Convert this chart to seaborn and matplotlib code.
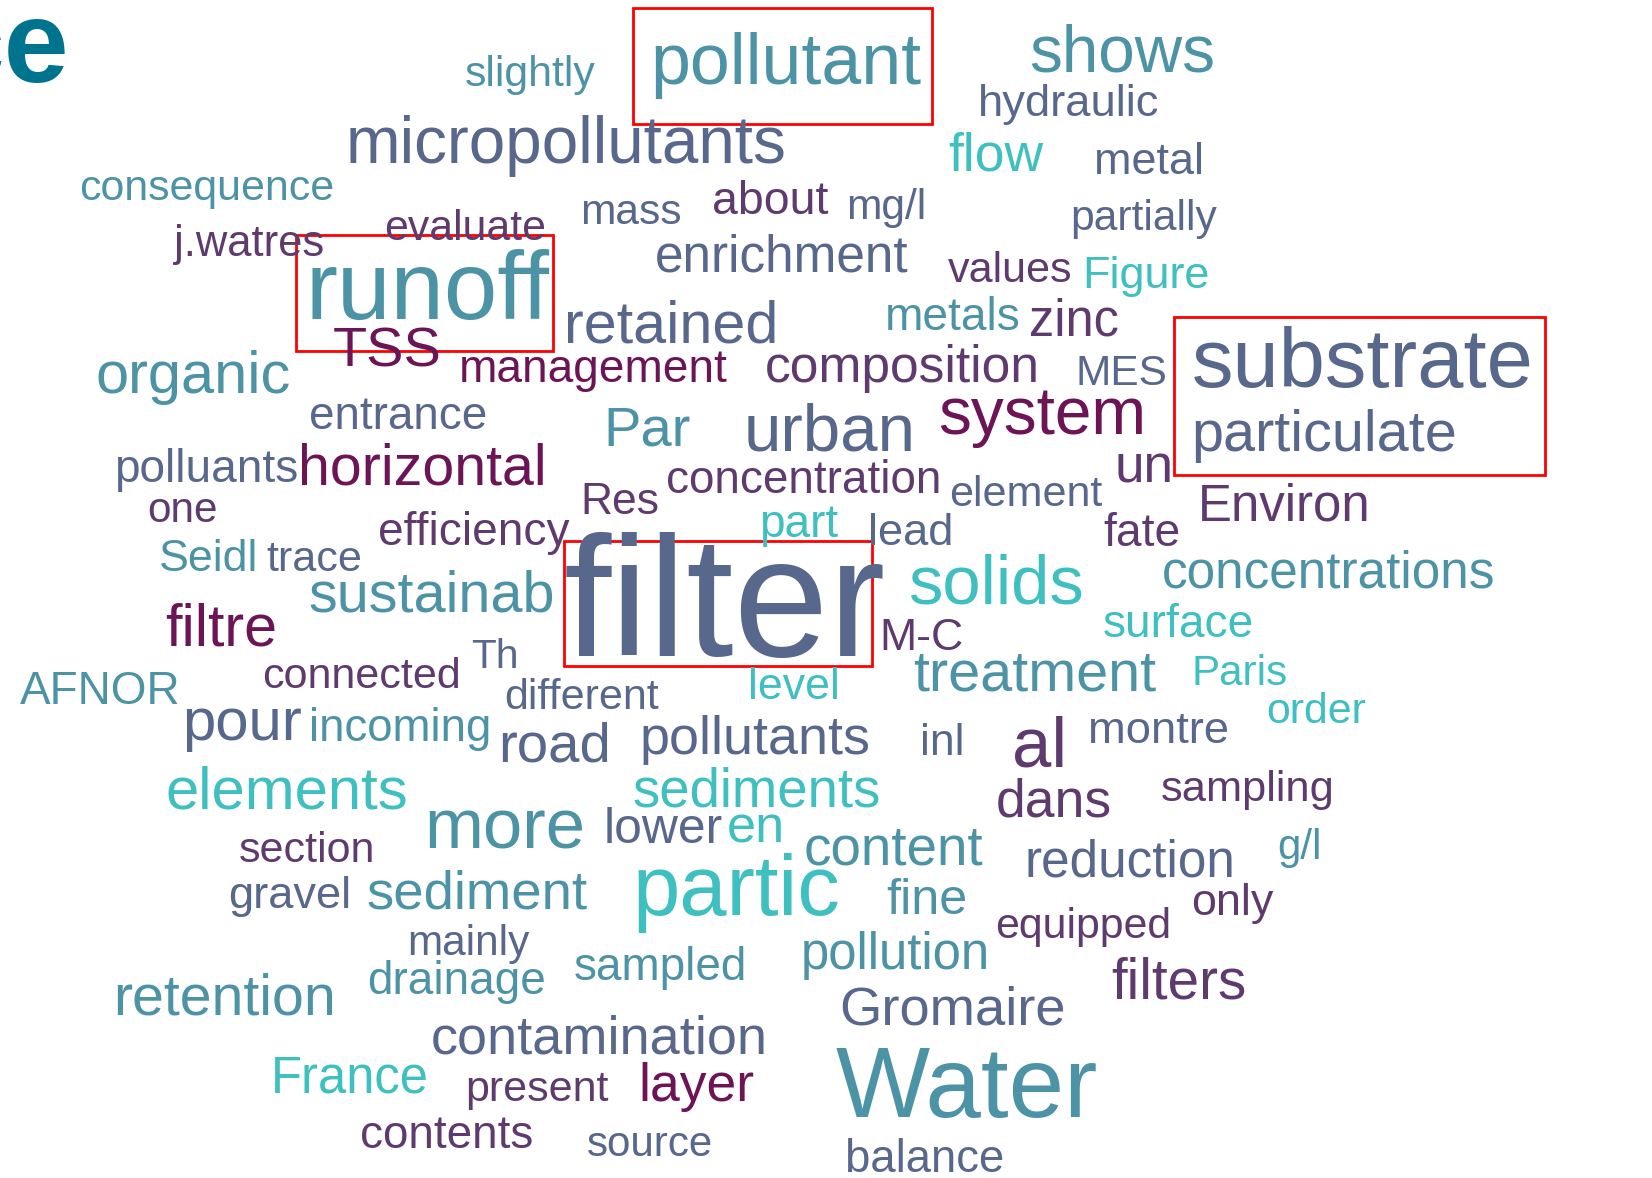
import matplotlib
matplotlib.use('Agg')
import matplotlib.pyplot as plt
from matplotlib.patches import Rectangle
import seaborn as sns

# words of the cloud and their colour group
words = ['slightly', 'pollutant', 'shows', 'hydraulic', 'micropollutants', 'flow', 'metal',
         'consequence', 'evaluate', 'j.watres', 'mass', 'about', 'mg/l', 'partially',
         'enrichment', 'values', 'Figure', 'runoff', 'retained', 'metals', 'zinc', 'TSS',
         'management', 'composition', 'MES', 'substrate', 'particulate', 'organic', 'entrance',
         'Par', 'urban', 'system', 'polluants', 'horizontal', 'concentration', 'Res', 'element',
         'un', 'Environ', 'one', 'efficiency', 'part', 'lead', 'fate', 'Seidl', 'trace',
         'filter', 'solids', 'concentrations', 'sustainab', 'filtre', 'surface', 'M-C', 'Th',
         'connected', 'AFNOR', 'treatment', 'Paris', 'level', 'different', 'order', 'pour',
         'incoming', 'road', 'pollutants', 'inl', 'al', 'montre', 'elements', 'sediments',
         'dans', 'sampling', 'more', 'lower', 'en', 'content', 'reduction', 'g/l', 'section',
         'gravel', 'sediment', 'partic', 'fine', 'only', 'equipped', 'mainly', 'sampled',
         'pollution', 'filters', 'retention', 'drainage', 'Gromaire', 'contamination',
         'France', 'present', 'layer', 'Water', 'contents', 'source', 'balance']

tones = ['T', 'T', 'T', 'S', 'S', 'Q', 'S',
         'T', 'P', 'P', 'S', 'P', 'S', 'S',
         'S', 'P', 'Q', 'T', 'S', 'T', 'P', 'M',
         'M', 'P', 'S', 'S', 'S', 'T', 'S',
         'T', 'S', 'M', 'S', 'M', 'P', 'P', 'S',
         'P', 'P', 'P', 'P', 'Q', 'S', 'P', 'T', 'S',
         'S', 'Q', 'T', 'T', 'M', 'Q', 'P', 'S',
         'P', 'T', 'T', 'Q', 'Q', 'S', 'Q', 'S',
         'T', 'S', 'S', 'S', 'P', 'S', 'Q', 'Q',
         'P', 'P', 'T', 'S', 'Q', 'T', 'S', 'T', 'P',
         'S', 'T', 'Q', 'T', 'P', 'P', 'S', 'T',
         'T', 'P', 'T', 'T', 'S', 'S',
         'Q', 'P', 'M', 'T', 'P', 'S', 'S']

highlighted = ['pollutant', 'runoff', 'substrate', 'filter']

# layout in a 1568 x 1118 frame: (left, right, baseline) of each word
layout = [(441, 565, 82), (617, 873, 80), (977, 1153, 68), (928, 1100, 110), (328, 746, 155),
          (900, 990, 162), (1038, 1142, 165),
          (75, 317, 190), (365, 518, 228), (165, 307, 243), (551, 647, 213), (676, 786, 203),
          (803, 879, 208), (1016, 1155, 218),
          (622, 863, 258), (900, 1018, 268), (1027, 1148, 273), (290, 522, 303), (535, 738, 325),
          (840, 968, 313), (977, 1062, 318), (316, 419, 348),
          (436, 690, 363), (726, 986, 363), (1021, 1108, 365), (1131, 1455, 367),
          (1131, 1382, 428), (91, 276, 373), (293, 462, 407),
          (573, 656, 423), (706, 869, 428), (890, 1087, 412), (108, 282, 457), (283, 518, 460),
          (632, 893, 468), (551, 626, 488), (901, 1046, 480),
          (1058, 1114, 458), (1137, 1301, 494), (140, 207, 495), (359, 540, 517), (720, 795, 510),
          (824, 905, 517), (1047, 1120, 518), (151, 245, 542), (253, 344, 542),
          (535, 840, 623), (862, 1028, 573), (1103, 1420, 558), (293, 526, 580), (157, 263, 613),
          (1047, 1190, 605), (835, 915, 617), (447, 492, 634),
          (249, 437, 653), (19, 171, 668), (867, 1097, 655), (1131, 1222, 650), (710, 797, 663),
          (479, 626, 673), (1202, 1297, 686), (173, 287, 702),
          (293, 466, 703), (473, 580, 723), (607, 825, 716), (873, 915, 717), (961, 1013, 727),
          (1033, 1167, 705), (157, 387, 767), (600, 835, 765),
          (945, 1055, 775), (1102, 1266, 760), (403, 556, 805), (573, 686, 800), (690, 745, 800),
          (763, 933, 820), (972, 1172, 832), (1212, 1254, 815), (227, 356, 818),
          (217, 334, 862), (348, 557, 862), (600, 797, 868), (841, 918, 867), (1131, 1209, 868),
          (945, 1112, 890), (387, 503, 906), (545, 709, 930),
          (760, 939, 920), (1055, 1183, 948), (107, 318, 963), (348, 517, 943), (797, 1012, 972),
          (409, 728, 1000),
          (257, 407, 1037), (442, 578, 1045), (606, 716, 1045), (793, 1042, 1060),
          (342, 506, 1090), (557, 677, 1097), (802, 953, 1112)]

# red frames: (x0, y0, x1, y1)
boxes = [(601, 8, 885, 118), (281, 223, 525, 333), (1114, 301, 1466, 451), (535, 513, 828, 632)]

palette = {'M': '#6C1456', 'P': '#5F3A6E', 'S': '#58678C', 'T': '#4C93A6', 'Q': '#3EBFC0'}

W, H = 1568, 1118

sns.set_theme(style='white')
plt.rcParams['font.family'] = ['Liberation Sans', 'DejaVu Sans']

fig = plt.figure(figsize=(16.52, 11.78), dpi=100)
ax = fig.add_axes([0, 0, 1, 1])
ax.set_xlim(0, W)
ax.set_ylim(H, 0)
ax.axis('off')

renderer = fig.canvas.get_renderer()
scale = 1652 / W

# slide title fragment cut by the left edge
ax.text(66, 78, 'ce', ha='right', va='baseline', fontsize=84, fontweight='bold',
        color='#00738E', family=['Liberation Sans Narrow', 'Liberation Sans'])

for word, tone, (left, right, base) in zip(words, tones, layout):
    t = ax.text(left, base, word, ha='left', va='baseline', fontsize=30,
                color=palette[tone])
    bb = t.get_window_extent(renderer)
    t.set_fontsize(30 * (right - left) * scale / bb.width)

for x0, y0, x1, y1 in boxes:
    ax.add_patch(Rectangle((x0, y0), x1 - x0, y1 - y0, fill=False,
                           edgecolor='#FF0000', linewidth=2))

fig.savefig('out.png', dpi=100, facecolor='white')
